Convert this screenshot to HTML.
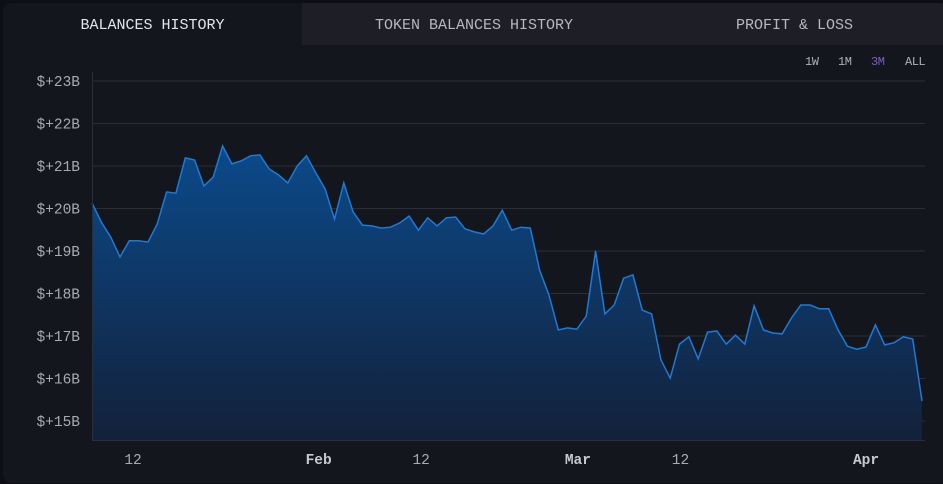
<!DOCTYPE html>
<html><head><meta charset="utf-8"><style>
html,body{margin:0;padding:0;background:#0d0f14;width:943px;height:484px;overflow:hidden;font-family:"Liberation Mono",monospace;}
#card{position:absolute;left:3px;top:3px;width:945px;height:480px;background:#14161d;border-radius:8px;overflow:hidden;}
.tab{position:absolute;top:0;height:42px;line-height:45px;text-align:center;font-size:15px;color:#c8c9cf;letter-spacing:0}
.tab.active{background:#14161d;color:#e4e5ea}
.tab.inactive{background:#1e1f26;color:#b7b8be}
.rng{position:absolute;top:52px;font-size:12px;color:#b0b1b7;letter-spacing:-0.5px}
</style></head><body>
<div id="card">
<div class="tab active" style="left:0;width:299px">BALANCES HISTORY</div>
<div class="tab inactive" style="left:299px;width:345px;text-align:left;padding-left:73px;box-sizing:border-box">TOKEN BALANCES HISTORY</div>
<div class="tab inactive" style="left:644px;width:301px;text-align:left;padding-left:89px;box-sizing:border-box">PROFIT &amp; LOSS</div>
<div class="rng" style="left:802px">1W</div>
<div class="rng" style="left:835px">1M</div>
<div class="rng" style="left:868px;color:#7b5fc7">3M</div>
<div class="rng" style="left:902px">ALL</div>
</div>
<svg id="chart" width="943" height="484" style="position:absolute;left:0;top:0">
<defs><linearGradient id="g" x1="0" y1="0" x2="0" y2="1"><stop offset="0" stop-color="#0b4a8a"/><stop offset="1" stop-color="#13213a"/></linearGradient></defs>
</svg>
<script>
const values=[20.13,19.68,19.33,18.86,19.24,19.24,19.21,19.64,20.39,20.36,21.19,21.14,20.53,20.74,21.47,21.05,21.12,21.24,21.26,20.93,20.79,20.60,21.0,21.24,20.84,20.46,19.75,20.60,19.92,19.61,19.59,19.54,19.56,19.66,19.82,19.49,19.78,19.59,19.78,19.80,19.52,19.45,19.40,19.59,19.96,19.49,19.56,19.54,18.55,17.96,17.14,17.19,17.16,17.47,19.0,17.52,17.73,18.36,18.44,17.61,17.52,16.44,16.01,16.81,16.98,16.46,17.09,17.12,16.81,17.02,16.81,17.71,17.14,17.07,17.05,17.42,17.73,17.73,17.64,17.64,17.14,16.76,16.69,16.74,17.26,16.79,16.84,16.98,16.93,15.47];
const yTicks=[15,16,17,18,19,20,21,22,23];
const xTickLabels=["12","Feb","12","Mar","12","Apr"];
const xTickIdx=[4.4,24.3,35.3,52.1,63.1,83.0];
const svg=document.getElementById('chart');
const NS='http://www.w3.org/2000/svg';
const X0=92,X1=922,Y15=421,PPB=42.5;
const x=i=>X0+i*(X1-X0)/(values.length-1);
const y=v=>Y15-(v-15)*PPB;
function mk(t,a){const e=document.createElementNS(NS,t);for(const k in a)e.setAttribute(k,a[k]);svg.appendChild(e);return e;}
yTicks.forEach(v=>{
 const l=mk('line',{x1:92,x2:925,y1:y(v),y2:y(v),stroke:'#2c2e36','stroke-width':1});
 
 
 const t=mk('text',{x:80,y:y(v)+5,'text-anchor':'end','font-size':14.5,fill:'#a9aab0','font-family':'Liberation Mono, monospace'});
 t.textContent='$+'+v+'B';
 
 
});
let d='M'+x(0)+','+y(values[0]);
values.forEach((v,i)=>{if(i)d+=' L'+x(i).toFixed(1)+','+y(v).toFixed(1);});
const area=mk('path',{d:d+' L'+x(values.length-1)+',440 L'+x(0)+',440 Z',fill:'url(#g)'});


const line=mk('path',{d:d,fill:'none',stroke:'#1c7ad8','stroke-width':1.5});


const ax=mk('line',{x1:92.5,x2:92.5,y1:72,y2:440,stroke:'#2c2e36'});


const bx=mk('line',{x1:92,x2:925,y1:440.5,y2:440.5,stroke:'#2c2e36'});


xTickLabels.forEach((s,i)=>{
 const bold=isNaN(+s);
 const t=mk('text',{x:x(xTickIdx[i]),y:464,'text-anchor':'middle','font-size':14.5,fill:bold?'#c8c9cf':'#a9aab0','font-weight':bold?'bold':'normal','font-family':'Liberation Mono, monospace'});
 t.textContent=s;
 
 
});
</script>
</body></html>
